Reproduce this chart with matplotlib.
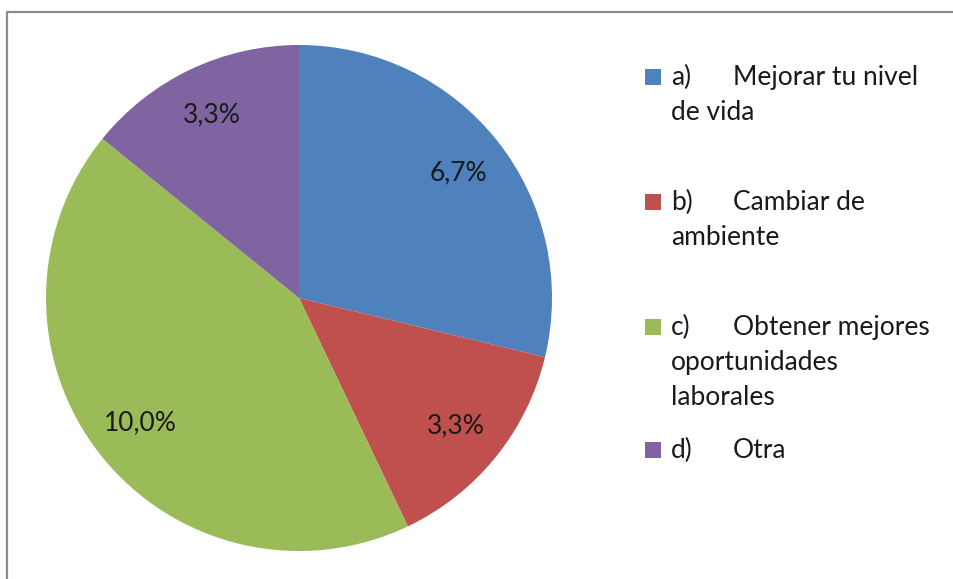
import matplotlib
matplotlib.use("Agg")
import matplotlib.pyplot as plt
from matplotlib.lines import Line2D
from matplotlib.patches import Rectangle

# datos
valores = [6.7, 3.3, 10.0, 3.3]
etiquetas = [
    "a)\tMejorar tu nivel\nde vida",
    "b)\tCambiar de\nambiente",
    "c)\tObtener mejores\noportunidades\nlaborales",
    "d)\tOtra",
]
colores = ["#4F81BD", "#C0504D", "#9BBB59", "#8064A2"]

W, H = 954, 579
plt.rcParams["font.family"] = ["Lato", "DejaVu Sans"]
FS = 19
TXT = "#1a1a1a"

fig = plt.figure(figsize=(W / 100, H / 100), dpi=100)

# marco del gráfico (solo se ven los bordes superior e izquierdo)
x0, y0 = 7.5 / W, 1 - 11.5 / H
fig.add_artist(Line2D([x0, x0, 1.01], [-0.01, y0, y0], transform=fig.transFigure,
                      color="#8c8c8c", linewidth=1.6))

cx, cy, r = 299, 298, 253
ax = fig.add_axes([(cx - r) / W, (H - cy - r) / H, 2 * r / W, 2 * r / H])
total = sum(valores)
ax.pie(valores, colors=colores, startangle=90, counterclock=False,
       radius=1, wedgeprops=dict(linewidth=0),
       autopct=lambda p: f"{p * total / 100:.1f}%".replace(".", ","),
       pctdistance=0.8, textprops=dict(fontsize=FS, color=TXT))
ax.set_xlim(-1, 1)
ax.set_ylim(-1, 1)
ax.axis("off")

# leyenda manual (posiciones en píxeles de la línea base)
baselines = [85, 210, 335, 458]
for lab, col, yb in zip(etiquetas, colores, baselines):
    fig.add_artist(Rectangle((645 / W, (H - yb) / H), 16 / W, 16 / H,
                             transform=fig.transFigure,
                             facecolor=col, edgecolor="none"))
    lineas = lab.split("\n")
    pref, resto = lineas[0].split("\t")
    fig.text(671 / W, (H - yb) / H, pref, fontsize=FS, color=TXT, va="baseline")
    fig.text(733 / W, (H - yb) / H, resto, fontsize=FS, color=TXT, va="baseline")
    for i, ln in enumerate(lineas[1:], start=1):
        fig.text(671 / W, (H - yb - 35 * i) / H, ln, fontsize=FS, color=TXT,
                 va="baseline")

fig.savefig("out.png", dpi=100)
